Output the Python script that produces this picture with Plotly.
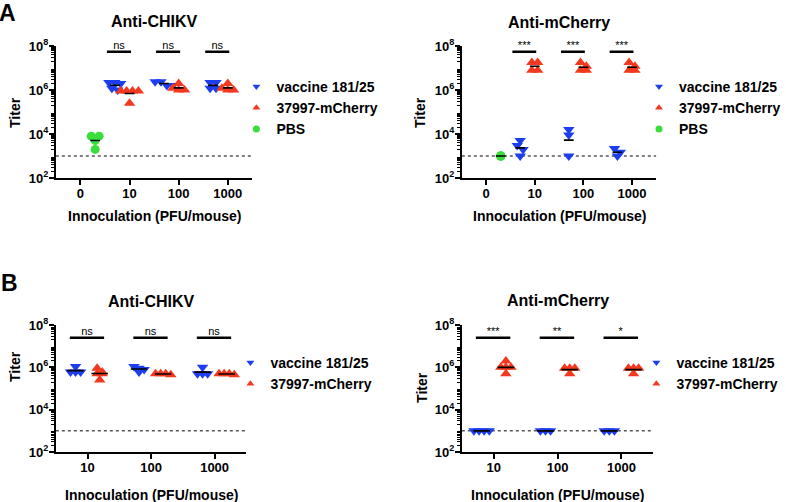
import numpy as np
import plotly.graph_objects as go

# ---------------- data ----------------
DOSES_A = ["0", "10", "100", "1000"]
DOSES_B = ["10", "100", "1000"]
NAME_VAC = "vaccine 181/25"
NAME_MCH = "37997-mCherry"
NAME_PBS = "PBS"
LOD = 1000  # limit of detection (dotted line)

# Panel A - Anti-CHIKV
A_CHIKV_PBS = {"0": [8e3, 8e3, 5e3, 2e3]}
A_CHIKV_VAC = {"10": [2.2e6, 2.2e6, 2.0e6, 1.2e6, 1.0e6],
               "100": [2.4e6, 2.4e6, 1.6e6, 1.6e6],
               "1000": [2.2e6, 2.2e6, 1.2e6, 1.2e6]}
A_CHIKV_MCH = {"10": [9e5, 9e5, 9e5, 9e5, 2.5e5],
               "100": [2.0e6, 1.2e6, 1.0e6, 1.0e6],
               "1000": [2.0e6, 1.2e6, 1.0e6, 1.0e6]}
A_CHIKV_SIG = ["ns", "ns", "ns"]

# Panel A - Anti-mCherry
A_MCH_PBS = {"0": [1e3, 1e3, 1e3, 1e3]}
A_MCH_VAC = {"10": [5e3, 3e3, 2e3, 1e3],
             "100": [1.6e4, 9e3, 1e3],
             "1000": [2.2e3, 1.5e3, 1e3]}
A_MCH_MCH = {"10": [1.8e7, 1.8e7, 8e6, 8e6],
             "100": [1.8e7, 1.2e7, 8e6, 8e6],
             "1000": [1.8e7, 1.2e7, 8e6, 8e6]}
A_MCH_SIG = ["***", "***", "***"]

# Panel B - Anti-CHIKV
B_CHIKV_VAC = {"10": [1.1e6, 6e5, 6e5, 6e5],
               "100": [1.1e6, 9e5, 8e5, 6e5],
               "1000": [1.0e6, 5e5, 5e5, 5e5]}
B_CHIKV_MCH = {"10": [9e5, 6e5, 5e5, 5e5, 2.5e5],
               "100": [5e5, 5e5, 5e5, 4.5e5],
               "1000": [5e5, 5e5, 5e5, 4.5e5]}
B_CHIKV_SIG = ["ns", "ns", "ns"]

# Panel B - Anti-mCherry
B_MCH_VAC = {"10": [1e3, 1e3, 1e3, 1e3],
             "100": [1e3, 1e3, 1e3],
             "1000": [1e3, 1e3, 1e3]}
B_MCH_MCH = {"10": [2e6, 1e6, 1e6, 1e6, 5e5],
             "100": [9e5, 9e5, 9e5, 5e5],
             "1000": [9e5, 9e5, 9e5, 5e5]}
B_MCH_SIG = ["***", "**", "*"]

# ---------------- styling ----------------
BLUE = "rgb(28,62,238)"
RED = "rgb(242,56,30)"
GREEN = "rgb(58,222,58)"
FONT = "Liberation Sans"
W, H = 786, 502


def px_x(p):
    return p / W


def px_y(p):
    return 1 - p / H


def spread(vals, d, h=0.2):
    lv = np.log10(np.asarray(vals, dtype=float))
    order = np.argsort(-lv, kind="stable")
    rows = []
    for i in order:
        if rows and lv[rows[-1][0]] - lv[i] <= h:
            rows[-1].append(i)
        else:
            rows.append([i])
    off = np.zeros(len(lv))
    for r in rows:
        n = len(r)
        for k, i in enumerate(r):
            off[i] = (k - (n - 1) / 2) * d
    return off


def geomean(v):
    return float(np.exp(np.mean(np.log(v))))


fig = go.Figure()

# series tuple: (name, data, color, symbol, shift within group, point spread, size)
panels = [
    dict(ax="", doses=DOSES_A,
         series=[(NAME_VAC, A_CHIKV_VAC, BLUE, "triangle-down", -0.3, 0.12, 10),
                 (NAME_MCH, A_CHIKV_MCH, RED, "triangle-up", 0.0, 0.12, 10),
                 (NAME_PBS, A_CHIKV_PBS, GREEN, "circle", 0.3, 0.16, 9)],
         sig=A_CHIKV_SIG, sig_lo=-0.46, sig_hi=0.03, sig_y=5.5e7,
         mw=0.1, legend="legend",
         xdom=(56, 253), ydom=(46, 178), title="Anti-CHIKV", title_y=22,
         leg_xy=(237, 71), titer=(15, 112), xt_y=216),
    dict(ax="2", doses=DOSES_A,
         series=[(NAME_VAC, A_MCH_VAC, BLUE, "triangle-down", -0.3, 0.12, 10),
                 (NAME_MCH, A_MCH_MCH, RED, "triangle-up", 0.0, 0.12, 10),
                 (NAME_PBS, A_MCH_PBS, GREEN, "circle", 0.3, 0.0, 9)],
         sig=A_MCH_SIG, sig_lo=-0.46, sig_hi=0.03, sig_y=5.5e7,
         mw=0.1, legend="legend2",
         xdom=(463, 658), ydom=(46, 178), title="Anti-mCherry", title_y=23,
         leg_xy=(641, 71), titer=(421, 112), xt_y=216),
    dict(ax="3", doses=DOSES_B,
         series=[(NAME_VAC, B_CHIKV_VAC, BLUE, "triangle-down", -0.19, 0.08, 10),
                 (NAME_MCH, B_CHIKV_MCH, RED, "triangle-up", 0.19, 0.08, 10)],
         sig=B_CHIKV_SIG, sig_lo=-0.28, sig_hi=0.26, sig_y=2.5e7,
         mw=0.13, legend="legend3",
         xdom=(56, 247), ydom=(325, 452), title="Anti-CHIKV", title_y=301,
         leg_xy=(231, 347), titer=(15, 366), xt_y=495),
    dict(ax="4", doses=DOSES_B,
         series=[(NAME_VAC, B_MCH_VAC, BLUE, "triangle-down", -0.19, 0.08, 10),
                 (NAME_MCH, B_MCH_MCH, RED, "triangle-up", 0.19, 0.08, 10)],
         sig=B_MCH_SIG, sig_lo=-0.28, sig_hi=0.26, sig_y=2.5e7,
         mw=0.13, legend="legend4",
         xdom=(463, 655), ydom=(325, 452), title="Anti-mCherry", title_y=300,
         leg_xy=(638, 347), titer=(423, 387), xt_y=495),
]

annotations = []
minor_vals = [k * 10 ** e for e in range(2, 8) for k in range(2, 10)]
NOHOVER = dict(showlegend=False, hoverinfo="skip")

for p in panels:
    xa, ya = "x" + p["ax"], "y" + p["ax"]
    doses = p["doses"]
    xr = [-0.5, len(doses) - 0.5]
    # LOD dotted line
    fig.add_trace(go.Scatter(x=xr, y=[LOD, LOD], mode="lines",
                             line=dict(color="black", width=1, dash="dot"),
                             xaxis=xa, yaxis=ya, **NOHOVER))
    # data points
    for name, data, color, sym, shift, d, ms in p["series"]:
        xs, ys = [], []
        for dose, vals in data.items():
            c = doses.index(dose) + shift
            xs += list(c + spread(vals, d))
            ys += list(vals)
        fig.add_trace(go.Scatter(x=xs, y=ys, mode="markers", name=name,
                                 marker=dict(symbol=sym, color=color, size=ms, line=dict(width=0)),
                                 xaxis=xa, yaxis=ya, showlegend=False))
    # geometric-mean lines on top
    for name, data, color, sym, shift, d, ms in p["series"]:
        for dose, vals in data.items():
            c = doses.index(dose) + shift
            gm = geomean(vals)
            fig.add_trace(go.Scatter(x=[c - p["mw"], c + p["mw"]], y=[gm, gm], mode="lines",
                                     line=dict(color="black", width=1.6),
                                     xaxis=xa, yaxis=ya, **NOHOVER))
    # legend entries
    for name, data, color, sym, shift, d, ms in p["series"]:
        fig.add_trace(go.Scatter(x=[None], y=[None], mode="markers",
                                 marker=dict(symbol=sym, color=color, size=7, line=dict(width=0)),
                                 name=name, legend=p["legend"], xaxis=xa, yaxis=ya))
    # significance bars
    first = 1 if len(doses) == 4 else 0
    for k, lab in enumerate(p["sig"]):
        c = first + k
        fig.add_trace(go.Scatter(x=[c + p["sig_lo"], c + p["sig_hi"]], y=[p["sig_y"]] * 2,
                                 mode="lines", line=dict(color="black", width=2.5),
                                 xaxis=xa, yaxis=ya, **NOHOVER))
        fig.add_trace(go.Scatter(x=[c + (p["sig_lo"] + p["sig_hi"]) / 2], y=[p["sig_y"]],
                                 mode="text", text=[lab], textposition="top center",
                                 cliponaxis=False,
                                 textfont=dict(family=FONT, size=11, color="black", weight="normal"),
                                 xaxis=xa, yaxis=ya, **NOHOVER))

    fig.update_layout(**{
        "xaxis" + p["ax"]: dict(
            domain=[px_x(p["xdom"][0]), px_x(p["xdom"][1])], anchor=ya, automargin=False,
            range=xr, tickmode="array", tickvals=list(range(len(doses))),
            ticktext=doses, ticks="outside", ticklen=5, tickwidth=2, tickcolor="black",
            ticklabelstandoff=-3,
            showline=True, linewidth=2, linecolor="black", showgrid=False,
            zeroline=False, tickfont=dict(family=FONT, size=13, color="black", weight="bold")),
        "yaxis" + p["ax"]: dict(
            domain=[px_y(p["ydom"][1]), px_y(p["ydom"][0])], anchor=xa, automargin=False,
            type="log", range=[2, 8], tickmode="array",
            tickvals=[1e2, 1e4, 1e6, 1e8],
            ticktext=["10<sup>2</sup>", "10<sup>4</sup>", "10<sup>6</sup>", "10<sup>8</sup>"],
            ticks="outside", ticklen=5, tickwidth=2, tickcolor="black",
            ticklabelstandoff=-2,
            minor=dict(tickmode="array", tickvals=minor_vals, ticks="outside",
                       ticklen=3, tickwidth=1, tickcolor="black", showgrid=False),
            showline=True, linewidth=2, linecolor="black", showgrid=False,
            zeroline=False, tickfont=dict(family=FONT, size=13, color="black", weight="bold")),
        p["legend"]: dict(
            x=px_x(p["leg_xy"][0]), y=px_y(p["leg_xy"][1]),
            xanchor="left", yanchor="top", bgcolor="rgba(0,0,0,0)", borderwidth=0,
            font=dict(family=FONT, size=14, color="black", weight="bold"),
            itemwidth=30, tracegroupgap=0),
    })
    xc = px_x((p["xdom"][0] + p["xdom"][1]) / 2)
    annotations.append(dict(text=p["title"], x=xc, y=px_y(p["title_y"]),
                            xref="paper", yref="paper", showarrow=False,
                            xanchor="center", yanchor="middle",
                            font=dict(family=FONT, size=16, color="black", weight="bold")))
    annotations.append(dict(text="Innoculation (PFU/mouse)", x=xc, y=px_y(p["xt_y"]),
                            xref="paper", yref="paper", showarrow=False,
                            xanchor="center", yanchor="middle",
                            font=dict(family=FONT, size=14, color="black", weight="bold")))
    annotations.append(dict(text="Titer", x=px_x(p["titer"][0]), y=px_y(p["titer"][1]),
                            xref="paper", yref="paper", showarrow=False, textangle=-90,
                            xanchor="center", yanchor="middle",
                            font=dict(family=FONT, size=14, color="black", weight="bold")))

annotations.append(dict(text="A", x=px_x(8), y=px_y(13), xref="paper", yref="paper",
                        xanchor="center", yanchor="middle", showarrow=False,
                        font=dict(family=FONT, size=23, color="black", weight="bold")))
annotations.append(dict(text="B", x=px_x(10), y=px_y(283), xref="paper", yref="paper",
                        xanchor="center", yanchor="middle", showarrow=False,
                        font=dict(family=FONT, size=23, color="black", weight="bold")))

fig.update_layout(template="none", width=W, height=H,
                  margin=dict(l=0, r=0, t=0, b=0, pad=0),
                  paper_bgcolor="white", plot_bgcolor="white",
                  font=dict(family=FONT, color="black", weight="bold"),
                  annotations=annotations)

fig.write_html("out.html", config={"displayModeBar": False},
               post_script="document.body.style.margin='0px';document.body.style.padding='0px';")
